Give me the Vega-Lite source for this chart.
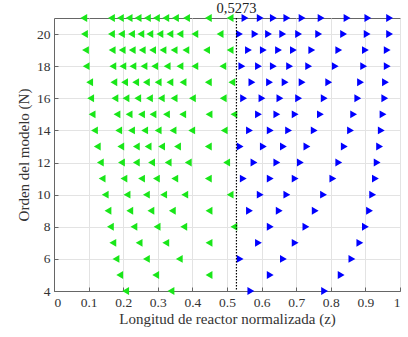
{
  "$schema": "https://vega.github.io/schema/vega-lite/v6.json",
  "width": 346,
  "height": 273,
  "autosize": {"type": "none"},
  "padding": {"left": 54, "top": 18, "right": 8, "bottom": 46},
  "background": "white",
  "config": {
    "font": "Liberation Serif",
    "view": {"stroke": "#666", "strokeWidth": 1},
    "axis": {
      "labelFont": "Liberation Serif",
      "titleFont": "Liberation Serif",
      "labelFontSize": 13.5,
      "titleFontSize": 15,
      "titleFontWeight": "normal",
      "labelColor": "#333",
      "titleColor": "#333",
      "domainColor": "#666",
      "tickColor": "#666",
      "gridColor": "#e3e3e3",
      "tickSize": -4,
      "labelPadding": 8,
      "labelOverlap": false
    }
  },
  "datasets": {
    "pts": [
      {"N":4,"z":0.207,"s":"L"},{"N":4,"z":0.338,"s":"L"},{"N":4,"z":0.569,"s":"R"},{"N":4,"z":0.782,"s":"R"},
      {"N":5,"z":0.190,"s":"L"},{"N":5,"z":0.294,"s":"L"},{"N":5,"z":0.448,"s":"L"},{"N":5,"z":0.625,"s":"R"},{"N":5,"z":0.830,"s":"R"},
      {"N":6,"z":0.179,"s":"L"},{"N":6,"z":0.267,"s":"L"},{"N":6,"z":0.362,"s":"L"},{"N":6,"z":0.538,"s":"R"},{"N":6,"z":0.663,"s":"R"},{"N":6,"z":0.861,"s":"R"},
      {"N":7,"z":0.170,"s":"L"},{"N":7,"z":0.246,"s":"L"},{"N":7,"z":0.323,"s":"L"},{"N":7,"z":0.448,"s":"L"},{"N":7,"z":0.591,"s":"R"},{"N":7,"z":0.697,"s":"R"},{"N":7,"z":0.884,"s":"R"},
      {"N":8,"z":0.163,"s":"L"},{"N":8,"z":0.231,"s":"L"},{"N":8,"z":0.298,"s":"L"},{"N":8,"z":0.375,"s":"L"},{"N":8,"z":0.520,"s":"L"},{"N":8,"z":0.625,"s":"R"},{"N":8,"z":0.728,"s":"R"},{"N":8,"z":0.900,"s":"R"},
      {"N":9,"z":0.156,"s":"L"},{"N":9,"z":0.219,"s":"L"},{"N":9,"z":0.280,"s":"L"},{"N":9,"z":0.342,"s":"L"},{"N":9,"z":0.448,"s":"L"},{"N":9,"z":0.565,"s":"R"},{"N":9,"z":0.651,"s":"R"},{"N":9,"z":0.755,"s":"R"},{"N":9,"z":0.912,"s":"R"},
      {"N":10,"z":0.148,"s":"L"},{"N":10,"z":0.211,"s":"L"},{"N":10,"z":0.267,"s":"L"},{"N":10,"z":0.317,"s":"L"},{"N":10,"z":0.378,"s":"L"},{"N":10,"z":0.509,"s":"L"},{"N":10,"z":0.596,"s":"R"},{"N":10,"z":0.673,"s":"R"},{"N":10,"z":0.779,"s":"R"},{"N":10,"z":0.921,"s":"R"},
      {"N":11,"z":0.139,"s":"L"},{"N":11,"z":0.202,"s":"L"},{"N":11,"z":0.253,"s":"L"},{"N":11,"z":0.296,"s":"L"},{"N":11,"z":0.349,"s":"L"},{"N":11,"z":0.446,"s":"L"},{"N":11,"z":0.547,"s":"R"},{"N":11,"z":0.625,"s":"R"},{"N":11,"z":0.697,"s":"R"},{"N":11,"z":0.806,"s":"R"},{"N":11,"z":0.929,"s":"R"},
      {"N":12,"z":0.134,"s":"L"},{"N":12,"z":0.195,"s":"L"},{"N":12,"z":0.238,"s":"L"},{"N":12,"z":0.282,"s":"L"},{"N":12,"z":0.330,"s":"L"},{"N":12,"z":0.388,"s":"L"},{"N":12,"z":0.499,"s":"L"},{"N":12,"z":0.578,"s":"R"},{"N":12,"z":0.644,"s":"R"},{"N":12,"z":0.712,"s":"R"},{"N":12,"z":0.823,"s":"R"},{"N":12,"z":0.934,"s":"R"},
      {"N":13,"z":0.125,"s":"L"},{"N":13,"z":0.193,"s":"L"},{"N":13,"z":0.238,"s":"L"},{"N":13,"z":0.272,"s":"L"},{"N":13,"z":0.311,"s":"L"},{"N":13,"z":0.357,"s":"L"},{"N":13,"z":0.446,"s":"L"},{"N":13,"z":0.538,"s":"R"},{"N":13,"z":0.605,"s":"R"},{"N":13,"z":0.663,"s":"R"},{"N":13,"z":0.731,"s":"R"},{"N":13,"z":0.839,"s":"R"},{"N":13,"z":0.941,"s":"R"},
      {"N":14,"z":0.117,"s":"L"},{"N":14,"z":0.187,"s":"L"},{"N":14,"z":0.224,"s":"L"},{"N":14,"z":0.262,"s":"L"},{"N":14,"z":0.301,"s":"L"},{"N":14,"z":0.344,"s":"L"},{"N":14,"z":0.398,"s":"L"},{"N":14,"z":0.492,"s":"L"},{"N":14,"z":0.565,"s":"R"},{"N":14,"z":0.625,"s":"R"},{"N":14,"z":0.678,"s":"R"},{"N":14,"z":0.752,"s":"R"},{"N":14,"z":0.857,"s":"R"},{"N":14,"z":0.946,"s":"R"},
      {"N":15,"z":0.110,"s":"L"},{"N":15,"z":0.182,"s":"L"},{"N":15,"z":0.217,"s":"L"},{"N":15,"z":0.253,"s":"L"},{"N":15,"z":0.286,"s":"L"},{"N":15,"z":0.325,"s":"L"},{"N":15,"z":0.372,"s":"L"},{"N":15,"z":0.448,"s":"L"},{"N":15,"z":0.520,"s":"L"},{"N":15,"z":0.591,"s":"R"},{"N":15,"z":0.644,"s":"R"},{"N":15,"z":0.697,"s":"R"},{"N":15,"z":0.770,"s":"R"},{"N":15,"z":0.866,"s":"R"},{"N":15,"z":0.951,"s":"R"},
      {"N":16,"z":0.106,"s":"L"},{"N":16,"z":0.176,"s":"L"},{"N":16,"z":0.208,"s":"L"},{"N":16,"z":0.242,"s":"L"},{"N":16,"z":0.276,"s":"L"},{"N":16,"z":0.310,"s":"L"},{"N":16,"z":0.347,"s":"L"},{"N":16,"z":0.400,"s":"L"},{"N":16,"z":0.489,"s":"L"},{"N":16,"z":0.548,"s":"R"},{"N":16,"z":0.601,"s":"R"},{"N":16,"z":0.653,"s":"R"},{"N":16,"z":0.707,"s":"R"},{"N":16,"z":0.781,"s":"R"},{"N":16,"z":0.878,"s":"R"},{"N":16,"z":0.956,"s":"R"},
      {"N":17,"z":0.103,"s":"L"},{"N":17,"z":0.173,"s":"L"},{"N":17,"z":0.204,"s":"L"},{"N":17,"z":0.236,"s":"L"},{"N":17,"z":0.267,"s":"L"},{"N":17,"z":0.301,"s":"L"},{"N":17,"z":0.335,"s":"L"},{"N":17,"z":0.373,"s":"L"},{"N":17,"z":0.446,"s":"L"},{"N":17,"z":0.514,"s":"L"},{"N":17,"z":0.572,"s":"R"},{"N":17,"z":0.623,"s":"R"},{"N":17,"z":0.668,"s":"R"},{"N":17,"z":0.717,"s":"R"},{"N":17,"z":0.794,"s":"R"},{"N":17,"z":0.886,"s":"R"},{"N":17,"z":0.958,"s":"R"},
      {"N":18,"z":0.093,"s":"L"},{"N":18,"z":0.170,"s":"L"},{"N":18,"z":0.199,"s":"L"},{"N":18,"z":0.228,"s":"L"},{"N":18,"z":0.260,"s":"L"},{"N":18,"z":0.291,"s":"L"},{"N":18,"z":0.327,"s":"L"},{"N":18,"z":0.364,"s":"L"},{"N":18,"z":0.407,"s":"L"},{"N":18,"z":0.488,"s":"L"},{"N":18,"z":0.543,"s":"R"},{"N":18,"z":0.591,"s":"R"},{"N":18,"z":0.634,"s":"R"},{"N":18,"z":0.681,"s":"R"},{"N":18,"z":0.736,"s":"R"},{"N":18,"z":0.813,"s":"R"},{"N":18,"z":0.895,"s":"R"},{"N":18,"z":0.963,"s":"R"},
      {"N":19,"z":0.091,"s":"L"},{"N":19,"z":0.168,"s":"L"},{"N":19,"z":0.197,"s":"L"},{"N":19,"z":0.226,"s":"L"},{"N":19,"z":0.255,"s":"L"},{"N":19,"z":0.285,"s":"L"},{"N":19,"z":0.315,"s":"L"},{"N":19,"z":0.347,"s":"L"},{"N":19,"z":0.381,"s":"L"},{"N":19,"z":0.441,"s":"L"},{"N":19,"z":0.509,"s":"L"},{"N":19,"z":0.562,"s":"R"},{"N":19,"z":0.605,"s":"R"},{"N":19,"z":0.649,"s":"R"},{"N":19,"z":0.692,"s":"R"},{"N":19,"z":0.745,"s":"R"},{"N":19,"z":0.823,"s":"R"},{"N":19,"z":0.900,"s":"R"},{"N":19,"z":0.963,"s":"R"},
      {"N":20,"z":0.088,"s":"L"},{"N":20,"z":0.166,"s":"L"},{"N":20,"z":0.195,"s":"L"},{"N":20,"z":0.224,"s":"L"},{"N":20,"z":0.251,"s":"L"},{"N":20,"z":0.277,"s":"L"},{"N":20,"z":0.306,"s":"L"},{"N":20,"z":0.335,"s":"L"},{"N":20,"z":0.364,"s":"L"},{"N":20,"z":0.407,"s":"L"},{"N":20,"z":0.480,"s":"L"},{"N":20,"z":0.536,"s":"R"},{"N":20,"z":0.581,"s":"R"},{"N":20,"z":0.620,"s":"R"},{"N":20,"z":0.661,"s":"R"},{"N":20,"z":0.707,"s":"R"},{"N":20,"z":0.765,"s":"R"},{"N":20,"z":0.837,"s":"R"},{"N":20,"z":0.905,"s":"R"},{"N":20,"z":0.970,"s":"R"},
      {"N":21,"z":0.086,"s":"L"},{"N":21,"z":0.166,"s":"L"},{"N":21,"z":0.192,"s":"L"},{"N":21,"z":0.217,"s":"L"},{"N":21,"z":0.243,"s":"L"},{"N":21,"z":0.270,"s":"L"},{"N":21,"z":0.296,"s":"L"},{"N":21,"z":0.323,"s":"L"},{"N":21,"z":0.351,"s":"L"},{"N":21,"z":0.383,"s":"L"},{"N":21,"z":0.446,"s":"L"},{"N":21,"z":0.509,"s":"L"},{"N":21,"z":0.552,"s":"R"},{"N":21,"z":0.596,"s":"R"},{"N":21,"z":0.634,"s":"R"},{"N":21,"z":0.673,"s":"R"},{"N":21,"z":0.717,"s":"R"},{"N":21,"z":0.772,"s":"R"},{"N":21,"z":0.847,"s":"R"},{"N":21,"z":0.907,"s":"R"},{"N":21,"z":0.970,"s":"R"}
    ],
    "cut": [{"z": 0.5273, "N": 21, "label": "0,5273"}]
  },
  "layer": [
    {
      "data": {"name": "pts"},
      "mark": {"type": "point", "filled": true, "size": 62, "opacity": 1},
      "encoding": {
        "x": {
          "field": "z", "type": "quantitative",
          "scale": {"domain": [0, 1], "nice": false, "zero": false},
          "axis": {"title": "Longitud de reactor normalizada (z)", "values": [0,0.1,0.2,0.3,0.4,0.5,0.6,0.7,0.8,0.9,1], "format": "~g", "titlePadding": 3, "labelOverlap": false}
        },
        "y": {
          "field": "N", "type": "quantitative",
          "scale": {"domain": [4, 21], "nice": false, "zero": false},
          "axis": {"title": "Orden del modelo (N)", "values": [4,6,8,10,12,14,16,18,20], "titlePadding": 5, "labelOverlap": false}
        },
        "shape": {"field": "s", "type": "nominal", "scale": {"domain": ["L", "R"], "range": ["triangle-left", "triangle-right"]}, "legend": null},
        "color": {"field": "s", "type": "nominal", "scale": {"domain": ["L", "R"], "range": ["#19e619", "#0000ff"]}, "legend": null}
      }
    },
    {
      "data": {"name": "cut"},
      "mark": {"type": "rule", "color": "#000", "strokeDash": [1.5, 1.5], "strokeWidth": 1.2},
      "encoding": {
        "x": {
          "field": "z", "type": "quantitative",
          "axis": {"title": "Longitud de reactor normalizada (z)", "values": [0,0.1,0.2,0.3,0.4,0.5,0.6,0.7,0.8,0.9,1], "format": "~g", "titlePadding": 3, "labelOverlap": false}
        }
      }
    },
    {
      "data": {"name": "cut"},
      "mark": {"type": "text", "font": "Liberation Serif", "fontSize": 14.5, "color": "#222", "dy": -9},
      "encoding": {
        "x": {
          "field": "z", "type": "quantitative",
          "axis": {"title": "Longitud de reactor normalizada (z)", "values": [0,0.1,0.2,0.3,0.4,0.5,0.6,0.7,0.8,0.9,1], "format": "~g", "titlePadding": 3, "labelOverlap": false}
        },
        "y": {
          "field": "N", "type": "quantitative",
          "axis": {"title": "Orden del modelo (N)", "values": [4,6,8,10,12,14,16,18,20], "titlePadding": 5, "labelOverlap": false}
        },
        "text": {"field": "label"}
      }
    }
  ]
}
